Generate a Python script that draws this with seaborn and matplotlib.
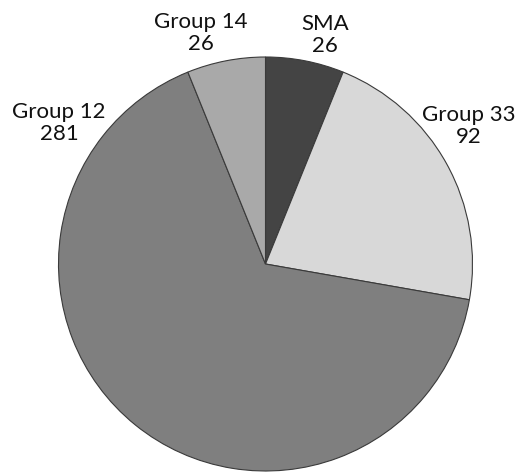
import matplotlib
matplotlib.use("Agg")
import matplotlib.pyplot as plt
import seaborn as sns

# data
groups = ["SMA", "Group 33", "Group 12", "Group 14"]
counts = [26, 92, 281, 26]
colors = ["#444444", "#d8d8d8", "#7f7f7f", "#a9a9a9"]

sns.set_theme(style="white")
plt.rcParams['font.family'] = ['Lato', 'DejaVu Sans']

fig = plt.figure(figsize=(5.18, 4.72), dpi=100)
ax = fig.add_axes([0, 0, 1, 1])

ax.pie(counts, colors=colors, startangle=90, counterclock=False,
       center=(265.5, 208), radius=207,
       wedgeprops=dict(edgecolor='#3a3a3a', linewidth=0.8))

# pie() resets the limits, so set them afterwards
ax.set_xlim(0, 518)
ax.set_ylim(0, 472)
ax.set_aspect('equal')
ax.axis('off')

# label positions in pixel coords (x, y from top)
label_pos = [(325, 35), (469, 126), (59, 123), (201, 33)]
for name, n, (x, y) in zip(groups, counts, label_pos):
    ax.text(x, 472 - y, f"{name}\n{n}", ha='center', va='center',
            fontsize=16, color='#111111', linespacing=1.1)

fig.savefig("out.png", dpi=100)
